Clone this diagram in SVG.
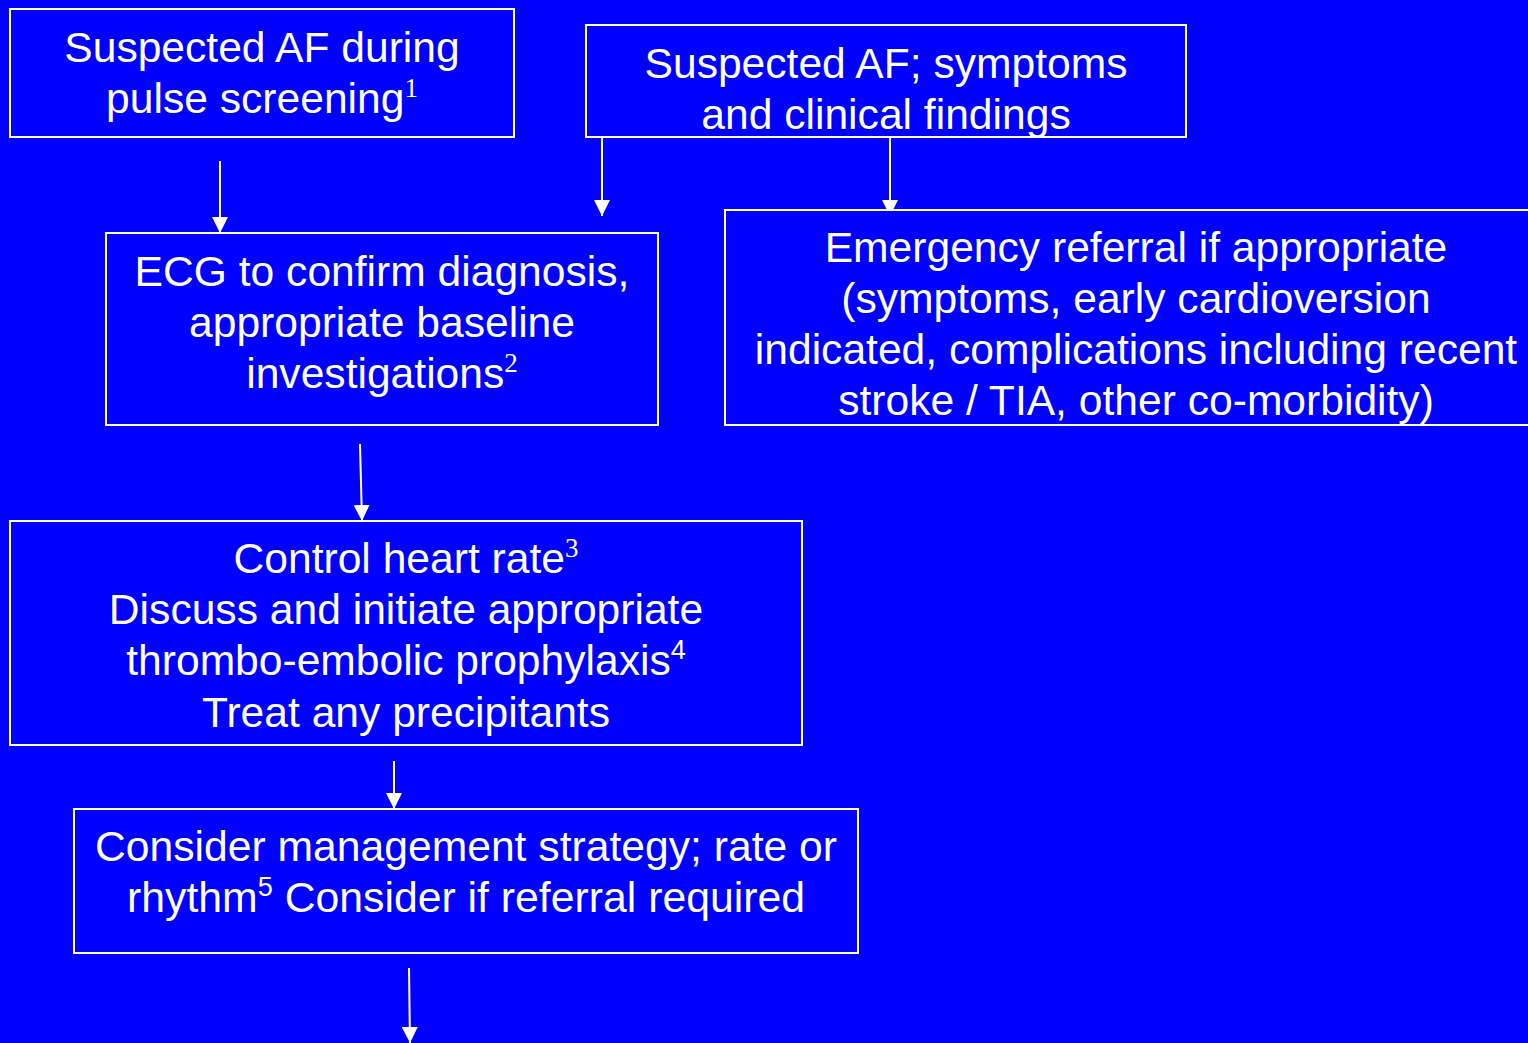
<svg xmlns="http://www.w3.org/2000/svg" width="1528" height="1043" viewBox="0 0 1528 1043">
<style>
.box{fill:#0000ff;stroke:#ffffff;stroke-width:2}
.t{font-family:"Liberation Sans",Arial,sans-serif;font-size:42.6px;fill:#ffffff;text-anchor:middle}
.sup{font-family:"Liberation Serif","Times New Roman",serif;font-size:27px}
.sups{font-family:"Liberation Sans",Arial,sans-serif;font-size:27px}
</style>
<defs>
<marker id="a" markerWidth="16" markerHeight="16" refX="16" refY="8" orient="auto" markerUnits="userSpaceOnUse" viewBox="0 0 16 16">
<path d="M0,0 L16,8 L0,16 Z" fill="#ffffff"/>
</marker>
</defs>
<rect width="1528" height="1043" fill="#0000ff"/>
<g id="connectors" stroke="#fff" stroke-width="2">
<line x1="220" y1="161" x2="220" y2="233" marker-end="url(#a)"/>
<line x1="602" y1="137" x2="602" y2="216" marker-end="url(#a)"/>
<line x1="890" y1="137" x2="890" y2="216" marker-end="url(#a)"/>
<line x1="360" y1="444" x2="362" y2="521" marker-end="url(#a)"/>
<line x1="394" y1="761" x2="394" y2="809" marker-end="url(#a)"/>
<line x1="409" y1="968" x2="410" y2="1043" marker-end="url(#a)"/>
</g>
<g id="n1">
<rect class="box" x="10" y="9" width="504" height="128"/>
<text class="t" x="262" y="62">Suspected AF during</text>
<text class="t" x="262" y="113">pulse screening<tspan class="sup" dy="-16">1</tspan></text>
</g>
<g id="n2">
<rect class="box" x="586" y="25" width="600" height="112"/>
<text class="t" x="886" y="78">Suspected AF; symptoms</text>
<text class="t" x="886" y="129">and clinical findings</text>
</g>
<g id="n3">
<rect class="box" x="106" y="233" width="552" height="192"/>
<text class="t" x="382" y="286">ECG to confirm diagnosis,</text>
<text class="t" x="382" y="337">appropriate baseline</text>
<text class="t" x="382" y="388">investigations<tspan class="sup" dy="-16">2</tspan></text>
</g>
<g id="n4">
<rect class="box" x="725" y="210" width="820" height="215"/>
<text class="t" x="1136" y="262">Emergency referral if appropriate</text>
<text class="t" x="1136" y="313">(symptoms, early cardioversion</text>
<text class="t" x="1136" y="364">indicated, complications including recent</text>
<text class="t" x="1136" y="415">stroke / TIA, other co-morbidity)</text>
</g>
<g id="n5">
<rect class="box" x="10" y="521" width="792" height="224"/>
<text class="t" x="406" y="573">Control heart rate<tspan class="sup" dy="-16">3</tspan></text>
<text class="t" x="406" y="624">Discuss and initiate appropriate</text>
<text class="t" x="406" y="675">thrombo-embolic prophylaxis<tspan class="sups" dy="-16">4</tspan></text>
<text class="t" x="406" y="727">Treat any precipitants</text>
</g>
<g id="n6">
<rect class="box" x="74" y="809" width="784" height="144"/>
<text class="t" x="466" y="861" textLength="742" lengthAdjust="spacingAndGlyphs">Consider management strategy; rate or</text>
<text class="t" x="466" y="912" textLength="678" lengthAdjust="spacingAndGlyphs">rhythm<tspan class="sups" dy="-16">5</tspan><tspan dy="16"> Consider if referral required</tspan></text>
</g>
</svg>
